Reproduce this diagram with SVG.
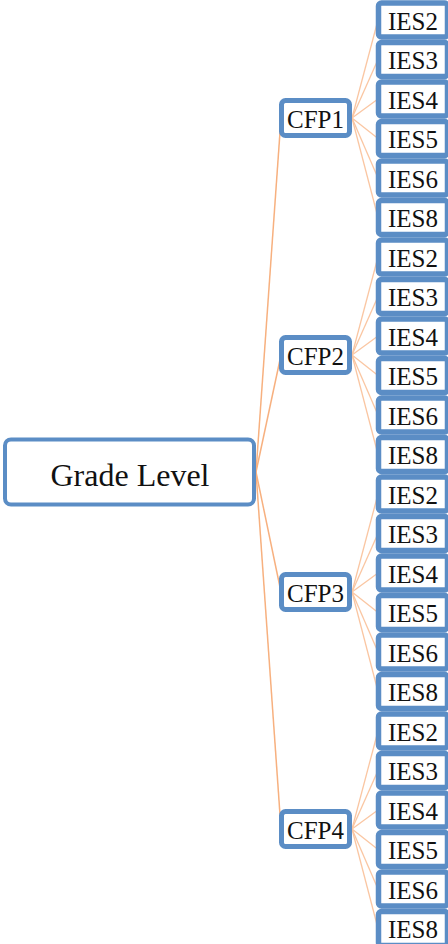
<svg xmlns="http://www.w3.org/2000/svg" width="448" height="944" viewBox="0 0 448 944">
<style>
.box{fill:#fff;stroke:#5B8DC5}
.root{stroke-width:4}
.cfp{stroke-width:5}
.ies{stroke-width:5.5}
text{font-family:"Liberation Serif","Times New Roman",serif;fill:#111;text-anchor:middle}
.t25{font-size:25px}
.t32{font-size:32px}
.main{stroke:#F7B07F;stroke-width:1.5;fill:none}
.sub{stroke:#FAC6A2;stroke-width:1.3;fill:none}
</style>
<rect width="448" height="944" fill="#fff"/>
<g id="connectors">
<line class="main" x1="256" y1="472" x2="281" y2="118"/>
<line class="main" x1="256" y1="472" x2="281" y2="355"/>
<line class="main" x1="256" y1="472" x2="281" y2="592"/>
<line class="main" x1="256" y1="472" x2="281" y2="829"/>
<line class="sub" x1="352" y1="118" x2="378" y2="20"/>
<line class="sub" x1="352" y1="118" x2="378" y2="59.5"/>
<line class="sub" x1="352" y1="118" x2="378" y2="99"/>
<line class="sub" x1="352" y1="118" x2="378" y2="138.5"/>
<line class="sub" x1="352" y1="118" x2="378" y2="178"/>
<line class="sub" x1="352" y1="118" x2="378" y2="217.5"/>
<line class="sub" x1="352" y1="355" x2="378" y2="257"/>
<line class="sub" x1="352" y1="355" x2="378" y2="296.5"/>
<line class="sub" x1="352" y1="355" x2="378" y2="336"/>
<line class="sub" x1="352" y1="355" x2="378" y2="375.5"/>
<line class="sub" x1="352" y1="355" x2="378" y2="415"/>
<line class="sub" x1="352" y1="355" x2="378" y2="454.5"/>
<line class="sub" x1="352" y1="592" x2="378" y2="494"/>
<line class="sub" x1="352" y1="592" x2="378" y2="533.5"/>
<line class="sub" x1="352" y1="592" x2="378" y2="573"/>
<line class="sub" x1="352" y1="592" x2="378" y2="612.5"/>
<line class="sub" x1="352" y1="592" x2="378" y2="652"/>
<line class="sub" x1="352" y1="592" x2="378" y2="691.5"/>
<line class="sub" x1="352" y1="829" x2="378" y2="731"/>
<line class="sub" x1="352" y1="829" x2="378" y2="770.5"/>
<line class="sub" x1="352" y1="829" x2="378" y2="810"/>
<line class="sub" x1="352" y1="829" x2="378" y2="849.5"/>
<line class="sub" x1="352" y1="829" x2="378" y2="889"/>
<line class="sub" x1="352" y1="829" x2="378" y2="928.5"/>
</g>
<g id="grade-level"><rect class="box root" x="5" y="439.5" width="249" height="65" rx="6"/><text class="t32" x="130" y="486">Grade Level</text></g>
<g id="cfp1"><rect class="box cfp" x="281.5" y="100.5" width="68" height="35" rx="4"/><text class="t25" x="315.5" y="128">CFP1</text></g>
<g id="cfp2"><rect class="box cfp" x="281.5" y="337.5" width="68" height="35" rx="4"/><text class="t25" x="315.5" y="365">CFP2</text></g>
<g id="cfp3"><rect class="box cfp" x="281.5" y="574.5" width="68" height="35" rx="4"/><text class="t25" x="315.5" y="602">CFP3</text></g>
<g id="cfp4"><rect class="box cfp" x="281.5" y="811.5" width="68" height="35" rx="4"/><text class="t25" x="315.5" y="839">CFP4</text></g>
<g id="cfp1-ies2"><rect class="box ies" x="378.5" y="3" width="69" height="34" rx="3"/><text class="t25" x="413" y="29.5">IES2</text></g>
<g id="cfp1-ies3"><rect class="box ies" x="378.5" y="42.5" width="69" height="34" rx="3"/><text class="t25" x="413" y="69">IES3</text></g>
<g id="cfp1-ies4"><rect class="box ies" x="378.5" y="82" width="69" height="34" rx="3"/><text class="t25" x="413" y="108.5">IES4</text></g>
<g id="cfp1-ies5"><rect class="box ies" x="378.5" y="121.5" width="69" height="34" rx="3"/><text class="t25" x="413" y="148">IES5</text></g>
<g id="cfp1-ies6"><rect class="box ies" x="378.5" y="161" width="69" height="34" rx="3"/><text class="t25" x="413" y="187.5">IES6</text></g>
<g id="cfp1-ies8"><rect class="box ies" x="378.5" y="200.5" width="69" height="34" rx="3"/><text class="t25" x="413" y="227">IES8</text></g>
<g id="cfp2-ies2"><rect class="box ies" x="378.5" y="240" width="69" height="34" rx="3"/><text class="t25" x="413" y="266.5">IES2</text></g>
<g id="cfp2-ies3"><rect class="box ies" x="378.5" y="279.5" width="69" height="34" rx="3"/><text class="t25" x="413" y="306">IES3</text></g>
<g id="cfp2-ies4"><rect class="box ies" x="378.5" y="319" width="69" height="34" rx="3"/><text class="t25" x="413" y="345.5">IES4</text></g>
<g id="cfp2-ies5"><rect class="box ies" x="378.5" y="358.5" width="69" height="34" rx="3"/><text class="t25" x="413" y="385">IES5</text></g>
<g id="cfp2-ies6"><rect class="box ies" x="378.5" y="398" width="69" height="34" rx="3"/><text class="t25" x="413" y="424.5">IES6</text></g>
<g id="cfp2-ies8"><rect class="box ies" x="378.5" y="437.5" width="69" height="34" rx="3"/><text class="t25" x="413" y="464">IES8</text></g>
<g id="cfp3-ies2"><rect class="box ies" x="378.5" y="477" width="69" height="34" rx="3"/><text class="t25" x="413" y="503.5">IES2</text></g>
<g id="cfp3-ies3"><rect class="box ies" x="378.5" y="516.5" width="69" height="34" rx="3"/><text class="t25" x="413" y="543">IES3</text></g>
<g id="cfp3-ies4"><rect class="box ies" x="378.5" y="556" width="69" height="34" rx="3"/><text class="t25" x="413" y="582.5">IES4</text></g>
<g id="cfp3-ies5"><rect class="box ies" x="378.5" y="595.5" width="69" height="34" rx="3"/><text class="t25" x="413" y="622">IES5</text></g>
<g id="cfp3-ies6"><rect class="box ies" x="378.5" y="635" width="69" height="34" rx="3"/><text class="t25" x="413" y="661.5">IES6</text></g>
<g id="cfp3-ies8"><rect class="box ies" x="378.5" y="674.5" width="69" height="34" rx="3"/><text class="t25" x="413" y="701">IES8</text></g>
<g id="cfp4-ies2"><rect class="box ies" x="378.5" y="714" width="69" height="34" rx="3"/><text class="t25" x="413" y="740.5">IES2</text></g>
<g id="cfp4-ies3"><rect class="box ies" x="378.5" y="753.5" width="69" height="34" rx="3"/><text class="t25" x="413" y="780">IES3</text></g>
<g id="cfp4-ies4"><rect class="box ies" x="378.5" y="793" width="69" height="34" rx="3"/><text class="t25" x="413" y="819.5">IES4</text></g>
<g id="cfp4-ies5"><rect class="box ies" x="378.5" y="832.5" width="69" height="34" rx="3"/><text class="t25" x="413" y="859">IES5</text></g>
<g id="cfp4-ies6"><rect class="box ies" x="378.5" y="872" width="69" height="34" rx="3"/><text class="t25" x="413" y="898.5">IES6</text></g>
<g id="cfp4-ies8"><rect class="box ies" x="378.5" y="911.5" width="69" height="34" rx="3"/><text class="t25" x="413" y="938">IES8</text></g>
</svg>
